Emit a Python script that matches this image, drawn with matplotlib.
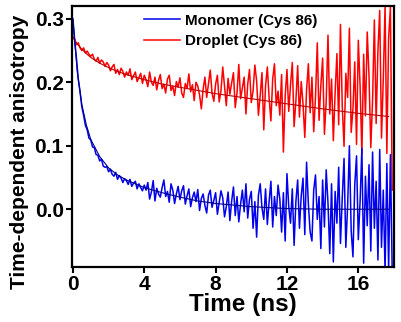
import numpy as np
import matplotlib
matplotlib.use("Agg")
import matplotlib.pyplot as plt

plt.rcParams['font.family'] = ['Liberation Sans', 'DejaVu Sans']
plt.rcParams['font.weight'] = 'bold'

# sampling times (ns), 0.1 ns steps
time_ns = np.round(np.arange(180) * 0.1, 1)

droplet = [
    0.271, 0.268, 0.259, 0.262, 0.254, 0.250, 0.254, 0.246, 0.249, 0.244,
    0.241, 0.244, 0.236, 0.233, 0.239, 0.230, 0.235, 0.232, 0.225, 0.231,
    0.227, 0.218, 0.224, 0.228, 0.214, 0.220, 0.212, 0.222, 0.217, 0.208,
    0.216, 0.211, 0.221, 0.204, 0.210, 0.216, 0.201, 0.207, 0.214, 0.198,
    0.211, 0.204, 0.193, 0.216, 0.200, 0.195, 0.208, 0.188, 0.203, 0.212,
    0.190, 0.197, 0.183, 0.205, 0.211, 0.187, 0.194, 0.179, 0.201, 0.192,
    0.207, 0.183, 0.176, 0.198, 0.190, 0.213, 0.185, 0.196, 0.171, 0.200,
    0.194, 0.180, 0.158, 0.189, 0.208, 0.176, 0.198, 0.219, 0.183, 0.170,
    0.197, 0.211, 0.169, 0.186, 0.224, 0.193, 0.163, 0.206, 0.181, 0.199,
    0.215, 0.160, 0.183, 0.228, 0.174, 0.191, 0.208, 0.150, 0.197, 0.220,
    0.168, 0.186, 0.227, 0.202, 0.148, 0.179, 0.215, 0.125, 0.194, 0.224,
    0.175, 0.139, 0.205, 0.229, 0.163, 0.186, 0.148, 0.212, 0.090, 0.178,
    0.220, 0.154, 0.196, 0.231, 0.130, 0.170, 0.226, 0.145, 0.201, 0.166,
    0.113, 0.188, 0.229, 0.152, 0.208, 0.122, 0.176, 0.262, 0.140, 0.195,
    0.238, 0.118, 0.170, 0.274, 0.150, 0.205, 0.108, 0.183, 0.245, 0.133,
    0.291, 0.162, 0.099, 0.214, 0.176, 0.285, 0.121, 0.158, 0.232, 0.102,
    0.266, 0.194, 0.086, 0.244, 0.147, 0.279, 0.210, 0.097, 0.172, 0.298,
    0.135, 0.250, 0.313, 0.112, 0.205, 0.320, 0.088, 0.270, 0.318, 0.030,
]

monomer = [
    0.300, 0.266, 0.237, 0.205, 0.185, 0.161, 0.148, 0.132, 0.125, 0.112,
    0.109, 0.098, 0.097, 0.086, 0.085, 0.076, 0.079, 0.068, 0.066, 0.067,
    0.059, 0.063, 0.055, 0.052, 0.058, 0.047, 0.053, 0.049, 0.042, 0.048,
    0.045, 0.039, 0.047, 0.036, 0.041, 0.044, 0.032, 0.040, 0.034, 0.029,
    0.038, 0.030, 0.042, 0.016, 0.027, 0.045, 0.013, 0.033, 0.024, 0.019,
    0.034, 0.046, 0.020, 0.028, 0.011, 0.040, 0.030, 0.009, 0.024, 0.036,
    0.015, 0.029, 0.037, 0.008, 0.021, 0.032, 0.004, 0.018, 0.027, 0.012,
    0.031, -0.002, 0.017, 0.024, 0.006, -0.006, 0.022, 0.030, 0.003, 0.014,
    0.026, -0.008, 0.011, 0.029, 0.018, -0.012, 0.004, 0.027, -0.018, 0.013,
    0.035, -0.010, 0.020, -0.020, 0.008, 0.030, -0.004, 0.040, -0.014, 0.016,
    0.028, -0.030, 0.012, -0.044, 0.022, 0.040, 0.002, -0.016, 0.032, -0.024,
    0.012, 0.044, -0.028, 0.020, -0.010, 0.038, 0.016, -0.036, 0.026, -0.050,
    0.056, 0.004, -0.022, 0.032, -0.057, 0.012, 0.046, -0.030, 0.021, 0.049,
    -0.040, 0.074, 0.008, -0.036, -0.050, 0.030, 0.054, -0.016, 0.020, -0.062,
    0.046, -0.028, 0.062, 0.010, -0.070, 0.040, -0.083, 0.028, -0.022, 0.066,
    -0.054, 0.018, 0.080, -0.060, 0.004, 0.100, -0.034, -0.075, 0.038, 0.084,
    -0.048, 0.012, 0.096, -0.085, 0.052, -0.026, 0.070, -0.066, 0.090, -0.030,
    0.044, -0.080, 0.094, -0.060, 0.030, -0.098, 0.072, -0.095, 0.086, -0.098,
]

fit_time = [0, 0.25, 0.5, 0.75, 1, 1.5, 2, 2.5, 3, 4, 5, 6, 7, 8, 10, 12, 14, 16, 17.7]
droplet_fit = [0.270, 0.260, 0.252, 0.245, 0.239, 0.230, 0.223, 0.217, 0.212, 0.204,
               0.197, 0.192, 0.187, 0.182, 0.174, 0.166, 0.158, 0.151, 0.146]
monomer_fit = [0.298, 0.215, 0.165, 0.133, 0.110, 0.083, 0.065, 0.054, 0.046, 0.034,
               0.026, 0.019, 0.013, 0.009, 0.004, 0.001, 0.000, 0.000, 0.000]

labels = ['Monomer (Cys 86)', 'Droplet (Cys 86)']
x_ticks = [0, 4, 8, 12, 16]
y_ticks = [0.0, 0.1, 0.2, 0.3]

fig = plt.figure(figsize=(4.01, 3.22), dpi=100)
ax = fig.add_axes([0.1796, 0.1708, 0.8029, 0.8106])

l_red, = ax.plot(time_ns, droplet, color='#ff0000', lw=1.1, label=labels[1])
l_blue, = ax.plot(time_ns, monomer, color='#0000ee', lw=1.1, label=labels[0])
ax.plot(fit_time, droplet_fit, color='#c00000', lw=0.8)
ax.plot(fit_time, monomer_fit, color='#000090', lw=0.8)

ax.set_xlim(-0.05, 18.0)
ax.set_ylim(-0.091, 0.32)
ax.set_xticks(x_ticks)
ax.set_yticks(y_ticks)
ax.set_yticklabels([f'{v:.1f}' for v in y_ticks])

for s in ax.spines.values():
    s.set_linewidth(1.6)
ax.tick_params(direction='out', length=4, width=1.5, labelsize=15, pad=2)
for lab in ax.get_xticklabels() + ax.get_yticklabels():
    lab.set_fontweight('bold')

ax.set_xlabel('Time (ns)', fontsize=17.5, fontweight='bold')
ax.xaxis.set_label_coords(0.531, -0.1)
ax.set_ylabel('Time-dependent anisotropy', fontsize=15, fontweight='bold')
ax.yaxis.set_label_coords(-0.135, 0.44)

leg = ax.legend(handles=[l_blue, l_red], loc='upper left', bbox_to_anchor=(0.225, 0.97),
                frameon=False, fontsize=11, handlelength=2.3, handletextpad=0.35,
                labelspacing=0.4, borderpad=0, borderaxespad=0)
for t in leg.get_texts():
    t.set_fontweight('bold')

fig.savefig('out.png', dpi=100)
